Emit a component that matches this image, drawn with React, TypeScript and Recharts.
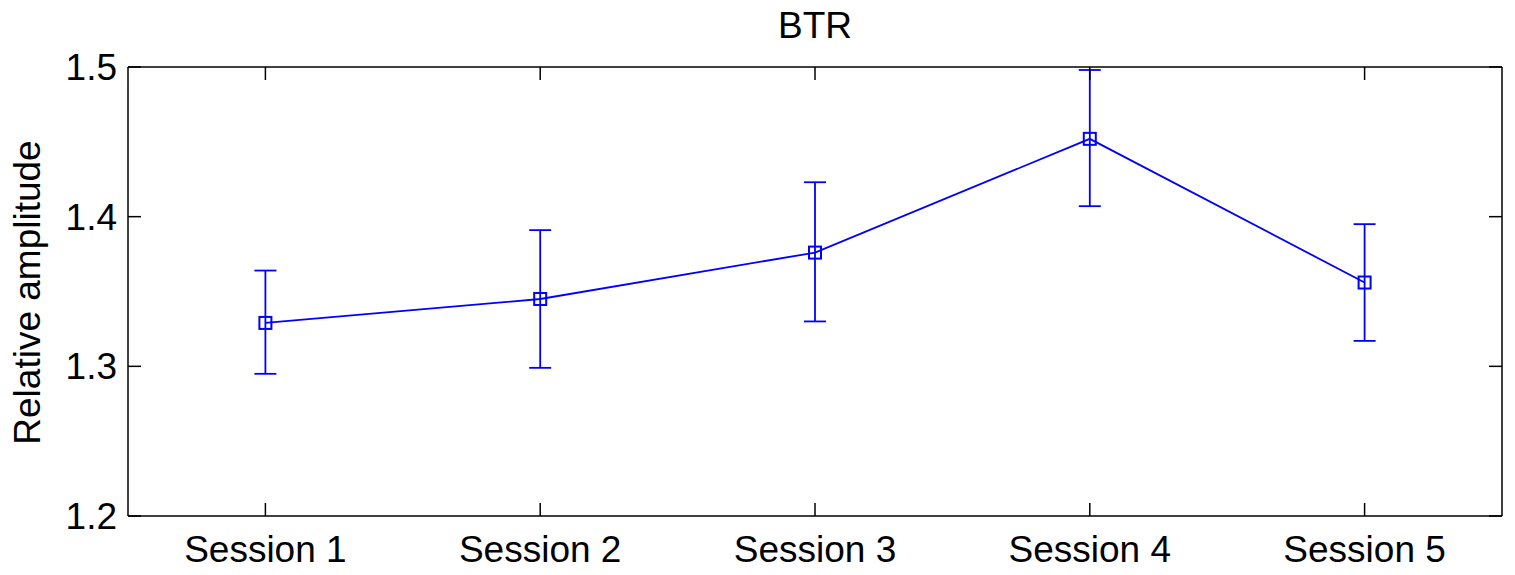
import { ComposedChart, Line, XAxis, YAxis, ErrorBar } from "recharts";

const sessions = ["Session 1", "Session 2", "Session 3", "Session 4", "Session 5"];
const means = [1.329, 1.345, 1.376, 1.452, 1.356];
const upper = [1.364, 1.391, 1.423, 1.498, 1.395];
const lower = [1.295, 1.299, 1.33, 1.407, 1.317];
const xTicks = [1, 2, 3, 4, 5];
const yTicks = [1.2, 1.3, 1.4, 1.5];

const data = sessions.map((name, i) => ({
  x: xTicks[i],
  name,
  mean: means[i],
  err: [means[i] - lower[i], upper[i] - means[i]],
}));

const FONT = "'Liberation Sans', Arial, Helvetica, sans-serif";
const BLUE = "#0000ff";
const TICK = 13;

const BottomTick = (props: any) => {
  const { x, y, payload } = props;
  return (
    <g>
      <line x1={x} x2={x} y1={y} y2={y - TICK} stroke="#000" strokeWidth={1.5} />
      <text x={x} y={y + 46} textAnchor="middle" fontSize={37} fontFamily={FONT} fill="#000">
        {sessions[payload.value - 1]}
      </text>
    </g>
  );
};

const TopTick = (props: any) => {
  const { x, y } = props;
  return <line x1={x} x2={x} y1={y} y2={y + TICK} stroke="#000" strokeWidth={1.5} />;
};

const LeftTick = (props: any) => {
  const { x, y, payload } = props;
  return (
    <g>
      <line x1={x} x2={x + TICK} y1={y} y2={y} stroke="#000" strokeWidth={1.5} />
      <text x={x - 11} y={y + 13} textAnchor="end" fontSize={37} fontFamily={FONT} fill="#000">
        {payload.value.toFixed(1)}
      </text>
    </g>
  );
};

const RightTick = (props: any) => {
  const { x, y } = props;
  return <line x1={x} x2={x - TICK} y1={y} y2={y} stroke="#000" strokeWidth={1.5} />;
};

const SquareDot = (props: any) => {
  const { cx, cy, index } = props;
  return (
    <rect key={index} x={cx - 6} y={cy - 6} width={12} height={12} fill="none" stroke={BLUE} strokeWidth={2} />
  );
};

export default function App() {
  return (
    <div style={{ position: "absolute", left: 0, top: 0, width: 1515, height: 575, background: "#fff" }}>
      <div
        style={{
          position: "absolute",
          left: 128,
          top: 7,
          width: 1374,
          textAlign: "center",
          fontFamily: FONT,
          fontSize: 37,
          lineHeight: "37px",
        }}
      >
        BTR
      </div>
      <div
        style={{
          position: "absolute",
          left: 27 - 200,
          top: 292 - 18.5,
          width: 400,
          height: 37,
          lineHeight: "37px",
          textAlign: "center",
          fontFamily: FONT,
          fontSize: 37,
          transform: "rotate(-90deg)",
        }}
      >
        Relative amplitude
      </div>
      <ComposedChart
        width={1515}
        height={575}
        data={data}
        margin={{ top: 66, right: 12, bottom: 9, left: 68 }}
        style={{ position: "absolute", left: 0, top: 0 }}
      >
        <XAxis
          dataKey="x"
          type="number"
          domain={[0.5, 5.5]}
          allowDataOverflow
          ticks={xTicks}
          height={50}
          tickSize={0}
          tickMargin={0}
          tick={<BottomTick />}
          axisLine={{ stroke: "#000", strokeWidth: 1.5 }}
          tickLine={false}
          interval={0}
        />
        <XAxis
          xAxisId="top"
          orientation="top"
          dataKey="x"
          type="number"
          domain={[0.5, 5.5]}
          allowDataOverflow
          ticks={xTicks}
          height={1}
          tickSize={0}
          tickMargin={0}
          tick={<TopTick />}
          axisLine={{ stroke: "#000", strokeWidth: 1.5 }}
          tickLine={false}
          interval={0}
        />
        <YAxis
          type="number"
          domain={[1.2, 1.5]}
          allowDataOverflow
          ticks={yTicks}
          width={60}
          tickSize={0}
          tickMargin={0}
          tick={<LeftTick />}
          axisLine={{ stroke: "#000", strokeWidth: 1.5 }}
          tickLine={false}
          interval={0}
        />
        <YAxis
          yAxisId="right"
          orientation="right"
          type="number"
          domain={[1.2, 1.5]}
          allowDataOverflow
          ticks={yTicks}
          width={1}
          tickSize={0}
          tickMargin={0}
          tick={<RightTick />}
          axisLine={{ stroke: "#000", strokeWidth: 1.5 }}
          tickLine={false}
          interval={0}
        />
        {/* invisible series so the top/right frame axes get drawn */}
        <Line
          xAxisId="top"
          yAxisId="right"
          dataKey="mean"
          stroke="none"
          dot={false}
          activeDot={false}
          isAnimationActive={false}
        />
        <Line
          dataKey="mean"
          stroke={BLUE}
          strokeWidth={1.8}
          dot={<SquareDot />}
          activeDot={false}
          isAnimationActive={false}
        >
          <ErrorBar dataKey="err" direction="y" width={11} stroke={BLUE} strokeWidth={1.8} isAnimationActive={false} />
        </Line>
      </ComposedChart>
    </div>
  );
}
